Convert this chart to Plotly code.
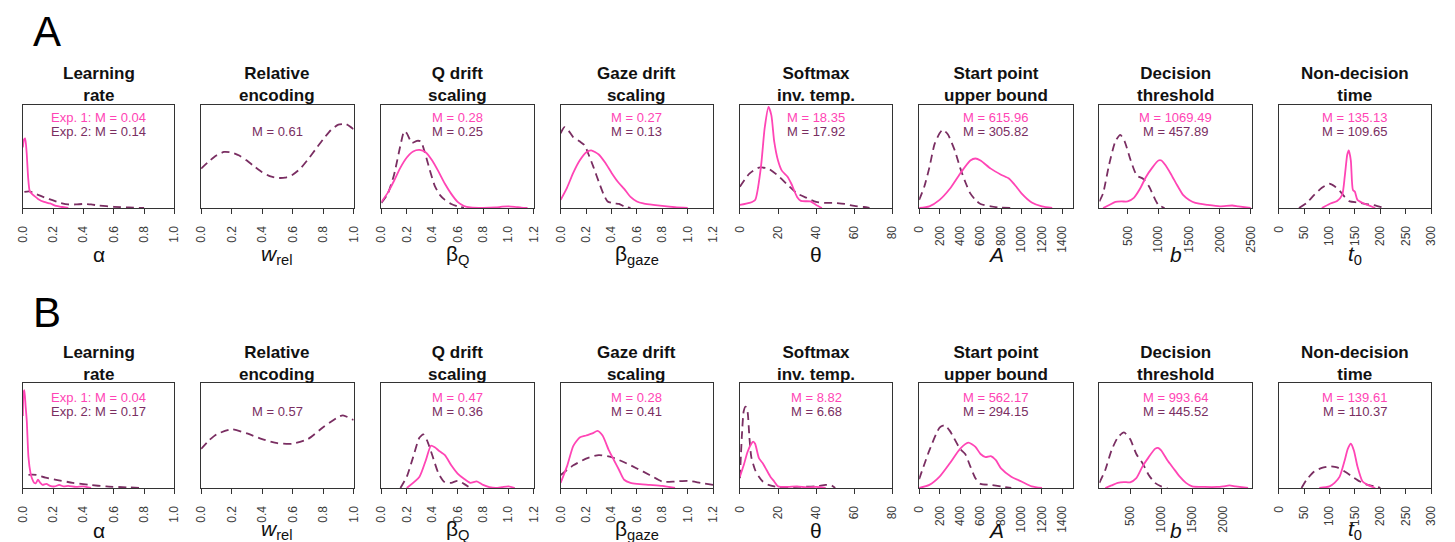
import plotly.graph_objects as go

W, H = 1455, 542
PINK = "#FF45B5"
PLUM = "#7A2E62"
FONT = "Liberation Sans, Arial, sans-serif"

# ---------------- data (x, relative density) ----------------
titles = ["Learning<br>rate", "Relative<br>encoding", "Q drift<br>scaling", "Gaze drift<br>scaling",
          "Softmax<br>inv. temp.", "Start point<br>upper bound", "Decision<br>threshold", "Non-decision<br>time"]
xlabels = ["α", "<i>w</i><sub>rel</sub>", "β<sub>Q</sub>", "β<sub>gaze</sub>", "θ", "<i>A</i>", "<i>b</i>", "<i>t</i><sub>0</sub>"]

ticks_01 = [0.0, 0.2, 0.4, 0.6, 0.8, 1.0]
ticks_012 = [0.0, 0.2, 0.4, 0.6, 0.8, 1.0, 1.2]
ticks_theta = [0, 20, 40, 60, 80]
ticks_A = [0, 200, 400, 600, 800, 1000, 1200, 1400]
ticks_b_A = [500, 1000, 1500, 2000, 2500]
ticks_b_B = [500, 1000, 1500, 2000]
ticks_t0 = [0, 50, 100, 150, 200, 250, 300]

means_A_exp1 = ["Exp. 1: M = 0.04", None, "M = 0.28", "M = 0.27", "M = 18.35", "M = 615.96", "M = 1069.49", "M = 135.13"]
means_A_exp2 = ["Exp. 2: M = 0.14", "M = 0.61", "M = 0.25", "M = 0.13", "M = 17.92", "M = 305.82", "M = 457.89", "M = 109.65"]
means_B_exp1 = ["Exp. 1: M = 0.04", None, "M = 0.47", "M = 0.28", "M = 8.82", "M = 562.17", "M = 993.64", "M = 139.61"]
means_B_exp2 = ["Exp. 2: M = 0.17", "M = 0.57", "M = 0.36", "M = 0.41", "M = 6.68", "M = 294.15", "M = 445.52", "M = 110.37"]

# Row A curves
A_lr_e1 = [[0, 0.6], [0.008, 0.68], [0.015, 0.69], [0.025, 0.55], [0.035, 0.3], [0.045, 0.17], [0.06, 0.14],
           [0.075, 0.12], [0.1, 0.09], [0.14, 0.06], [0.18, 0.045], [0.22, 0.02], [0.26, 0.01], [0.3, 0.0]]
A_lr_e2 = [[0.01, 0.16], [0.04, 0.165], [0.07, 0.15], [0.1, 0.13], [0.15, 0.1], [0.2, 0.075], [0.25, 0.05],
           [0.3, 0.035], [0.35, 0.035], [0.4, 0.04], [0.45, 0.035], [0.5, 0.025], [0.6, 0.012], [0.7, 0.005], [0.8, 0.0]]
A_rel_e2 = [[0, 0.39], [0.05, 0.46], [0.1, 0.52], [0.15, 0.555], [0.2, 0.55], [0.25, 0.52], [0.3, 0.47], [0.35, 0.41],
            [0.4, 0.355], [0.45, 0.315], [0.5, 0.298], [0.55, 0.3], [0.6, 0.33], [0.65, 0.39], [0.7, 0.48], [0.75, 0.58],
            [0.8, 0.68], [0.85, 0.77], [0.9, 0.825], [0.95, 0.83], [1.0, 0.78]]
A_q_e1 = [[0, 0.06], [0.05, 0.15], [0.1, 0.27], [0.15, 0.4], [0.2, 0.5], [0.25, 0.56], [0.3, 0.575], [0.35, 0.55],
          [0.4, 0.47], [0.45, 0.36], [0.5, 0.24], [0.55, 0.14], [0.6, 0.06], [0.65, 0.02], [0.7, 0.005], [0.8, 0.0],
          [0.9, 0.005], [0.95, 0.013], [1.0, 0.017], [1.05, 0.012], [1.1, 0.003], [1.15, 0.0]]
A_q_e2 = [[0, 0.05], [0.05, 0.14], [0.1, 0.33], [0.15, 0.62], [0.18, 0.76], [0.2, 0.74], [0.24, 0.645], [0.28, 0.665],
          [0.31, 0.66], [0.34, 0.56], [0.38, 0.38], [0.42, 0.22], [0.46, 0.13], [0.5, 0.08], [0.55, 0.04], [0.6, 0.015],
          [0.65, 0.003]]
A_g_e1 = [[0, 0.08], [0.05, 0.2], [0.1, 0.35], [0.15, 0.47], [0.2, 0.55], [0.24, 0.57], [0.3, 0.53], [0.35, 0.45],
          [0.4, 0.35], [0.45, 0.26], [0.5, 0.19], [0.55, 0.11], [0.6, 0.065], [0.65, 0.045], [0.7, 0.035], [0.8, 0.02],
          [0.9, 0.008], [1.0, 0.0]]
A_g_e2 = [[0, 0.74], [0.03, 0.8], [0.06, 0.77], [0.1, 0.7], [0.15, 0.66], [0.19, 0.62], [0.22, 0.53], [0.26, 0.4],
          [0.3, 0.26], [0.34, 0.13], [0.37, 0.065], [0.42, 0.045], [0.46, 0.04], [0.5, 0.015], [0.55, 0.0]]
A_s_e1 = [[0, 0.03], [5, 0.05], [8, 0.08], [11, 0.4], [13, 0.79], [15, 1.0], [16.5, 0.92], [18, 0.66], [20, 0.47],
          [22, 0.37], [25, 0.31], [27, 0.24], [30, 0.11], [32, 0.07], [37, 0.065], [40, 0.03], [43, 0.0]]
A_s_e2 = [[0, 0.21], [5, 0.34], [10, 0.4], [15, 0.39], [20, 0.32], [25, 0.23], [30, 0.145], [35, 0.1], [40, 0.06],
          [45, 0.05], [50, 0.05], [55, 0.04], [60, 0.02], [65, 0.01], [68, 0.0]]
A_a_e1 = [[0, 0.0], [100, 0.016], [200, 0.08], [300, 0.19], [400, 0.34], [500, 0.47], [550, 0.49], [600, 0.47],
          [700, 0.39], [800, 0.33], [880, 0.29], [950, 0.21], [1000, 0.145], [1100, 0.055], [1200, 0.016], [1300, 0.0]]
A_a_e2 = [[0, 0.08], [50, 0.21], [100, 0.4], [150, 0.63], [200, 0.74], [230, 0.775], [280, 0.73], [350, 0.565],
          [400, 0.4], [450, 0.26], [500, 0.145], [550, 0.08], [600, 0.04], [700, 0.016], [800, 0.003], [900, 0.0]]
A_b_e1 = [[100, 0.0], [200, 0.03], [300, 0.06], [400, 0.065], [500, 0.065], [600, 0.1], [700, 0.19], [800, 0.31],
          [900, 0.4], [1000, 0.47], [1050, 0.47], [1100, 0.435], [1200, 0.34], [1300, 0.23], [1400, 0.13],
          [1500, 0.08], [1600, 0.05], [1800, 0.03], [2000, 0.016], [2200, 0.025], [2300, 0.016], [2500, 0.0]]
A_b_e2 = [[40, 0.065], [100, 0.145], [200, 0.435], [300, 0.66], [380, 0.725], [450, 0.66], [550, 0.47], [650, 0.32],
          [750, 0.29], [850, 0.21], [950, 0.08], [1000, 0.03], [1100, 0.0]]
A_t_e1 = [[85, 0.0], [100, 0.04], [115, 0.07], [125, 0.13], [130, 0.31], [135, 0.53], [138, 0.57], [142, 0.47],
          [146, 0.18], [150, 0.16], [155, 0.08], [165, 0.05], [175, 0.03], [185, 0.01], [190, 0.0]]
A_t_e2 = [[40, 0.0], [55, 0.05], [70, 0.13], [85, 0.2], [100, 0.24], [110, 0.215], [120, 0.17], [130, 0.11],
          [140, 0.065], [155, 0.055], [170, 0.04], [185, 0.03], [200, 0.01], [210, 0.0]]

# Row B curves
B_lr_e1 = [[0, 0.7], [0.005, 0.93], [0.01, 0.95], [0.018, 0.8], [0.026, 0.65], [0.037, 0.3], [0.05, 0.15],
           [0.06, 0.095], [0.075, 0.05], [0.085, 0.045], [0.1, 0.08], [0.115, 0.05], [0.13, 0.03], [0.155, 0.04],
           [0.18, 0.02], [0.21, 0.015], [0.24, 0.03], [0.27, 0.015], [0.3, 0.02], [0.35, 0.01], [0.4, 0.015],
           [0.45, 0.0]]
B_lr_e2 = [[0.037, 0.127], [0.06, 0.13], [0.09, 0.127], [0.15, 0.1], [0.22, 0.08], [0.33, 0.05], [0.44, 0.03],
           [0.55, 0.015], [0.7, 0.006], [0.78, 0.0]]
B_rel_e2 = [[0, 0.38], [0.05, 0.46], [0.1, 0.52], [0.2, 0.57], [0.3, 0.53], [0.4, 0.475], [0.5, 0.435], [0.6, 0.43],
            [0.7, 0.475], [0.8, 0.59], [0.9, 0.69], [0.93, 0.705], [1.0, 0.66]]
B_q_e1 = [[0.2, 0.0], [0.3, 0.11], [0.35, 0.27], [0.39, 0.41], [0.42, 0.395], [0.45, 0.365], [0.5, 0.32], [0.55, 0.22],
          [0.6, 0.14], [0.65, 0.09], [0.7, 0.05], [0.75, 0.065], [0.8, 0.03], [0.85, 0.008], [0.9, 0.0],
          [0.95, 0.008], [1.0, 0.016], [1.05, 0.0]]
B_q_e2 = [[0.15, 0.0], [0.2, 0.11], [0.25, 0.3], [0.3, 0.49], [0.33, 0.52], [0.36, 0.46], [0.4, 0.32], [0.45, 0.14],
          [0.5, 0.054], [0.55, 0.05], [0.6, 0.07], [0.65, 0.04], [0.7, 0.0]]
B_g_e1 = [[0, 0.05], [0.05, 0.21], [0.1, 0.41], [0.15, 0.49], [0.2, 0.51], [0.25, 0.53], [0.29, 0.555], [0.33, 0.51],
          [0.38, 0.365], [0.42, 0.27], [0.46, 0.175], [0.5, 0.08], [0.55, 0.05], [0.6, 0.04], [0.7, 0.03], [0.8, 0.02],
          [0.9, 0.0]]
B_g_e2 = [[0, 0.127], [0.05, 0.175], [0.1, 0.22], [0.2, 0.285], [0.3, 0.32], [0.4, 0.3], [0.5, 0.25], [0.6, 0.19],
          [0.7, 0.127], [0.8, 0.063], [0.9, 0.063], [1.0, 0.07], [1.1, 0.05], [1.2, 0.03]]
B_s_e1 = [[0, 0.11], [2, 0.22], [4, 0.35], [6, 0.43], [7, 0.45], [8, 0.43], [10, 0.29], [12, 0.24], [14, 0.175],
          [16, 0.11], [18, 0.063], [20, 0.016], [25, 0.01], [30, 0.016], [35, 0.006], [40, 0.01], [45, 0.0]]
B_s_e2 = [[0, 0.095], [1, 0.49], [2, 0.745], [3, 0.79], [4, 0.745], [5, 0.49], [6, 0.3], [8, 0.175], [10, 0.11],
          [12, 0.063], [15, 0.03], [20, 0.01], [30, 0.01], [40, 0.016], [45, 0.03], [48, 0.025], [50, 0.0]]
B_a_e1 = [[0, 0.0], [100, 0.03], [200, 0.11], [300, 0.24], [400, 0.38], [480, 0.44], [550, 0.4], [600, 0.33],
          [650, 0.3], [700, 0.31], [750, 0.27], [800, 0.19], [900, 0.11], [1000, 0.063], [1100, 0.016], [1200, 0.0]]
B_a_e2 = [[0, 0.086], [100, 0.365], [200, 0.587], [250, 0.61], [300, 0.555], [400, 0.38], [450, 0.33], [500, 0.21],
          [550, 0.095], [600, 0.04], [700, 0.03], [800, 0.016], [900, 0.0]]
B_b_e1 = [[100, 0.0], [200, 0.025], [300, 0.05], [400, 0.058], [500, 0.055], [600, 0.095], [700, 0.21], [800, 0.3],
          [900, 0.38], [950, 0.39], [1000, 0.365], [1100, 0.27], [1200, 0.19], [1300, 0.11], [1400, 0.05],
          [1500, 0.016], [1700, 0.01], [1900, 0.01], [2000, 0.016], [2100, 0.025], [2200, 0.016], [2400, 0.0]]
B_b_e2 = [[5, 0.05], [100, 0.175], [200, 0.365], [300, 0.49], [400, 0.54], [500, 0.475], [600, 0.33], [700, 0.24],
          [800, 0.127], [900, 0.05], [1000, 0.016], [1100, 0.0]]
B_t_e1 = [[80, 0.0], [100, 0.016], [110, 0.05], [120, 0.11], [130, 0.27], [136, 0.38], [142, 0.43], [148, 0.365],
          [155, 0.21], [165, 0.063], [175, 0.03], [185, 0.01], [190, 0.0]]
B_t_e2 = [[45, 0.0], [55, 0.08], [70, 0.16], [85, 0.195], [100, 0.21], [115, 0.2], [130, 0.16], [145, 0.11],
          [160, 0.063], [175, 0.03], [190, 0.016], [200, 0.0]]

rowA_curves = [(A_lr_e1, A_lr_e2), (None, A_rel_e2), (A_q_e1, A_q_e2), (A_g_e1, A_g_e2),
               (A_s_e1, A_s_e2), (A_a_e1, A_a_e2), (A_b_e1, A_b_e2), (A_t_e1, A_t_e2)]
rowB_curves = [(B_lr_e1, B_lr_e2), (None, B_rel_e2), (B_q_e1, B_q_e2), (B_g_e1, B_g_e2),
               (B_s_e1, B_s_e2), (B_a_e1, B_a_e2), (B_b_e1, B_b_e2), (B_t_e1, B_t_e2)]

ranges_A = [[0, 1], [0, 1], [0, 1.2], [0, 1.2], [0, 80], [0, 1500], [40, 2520], [0, 300]]
ranges_B = [[0, 1], [0, 1], [0, 1.2], [0, 1.2], [0, 80], [0, 1500], [5, 2462], [0, 300]]
tickvals_A = [ticks_01, ticks_01, ticks_012, ticks_012, ticks_theta, ticks_A, ticks_b_A, ticks_t0]
tickvals_B = [ticks_01, ticks_01, ticks_012, ticks_012, ticks_theta, ticks_A, ticks_b_B, ticks_t0]

# ---------------- layout geometry (pixels) ----------------
XL = [16, 196, 378, 559, 740, 921, 1103, 1284]
XR = [169, 350, 532, 713, 894, 1076, 1257, 1438]
ROWS = [(105, 208), (383, 488)]
XLAB_OFF = [47, 42]
MEAN_OFF = [(12.5, 26.5), (14, 28)]


def px(x):
    return x / W


def py(y):
    return 1 - y / H


def fmt(v, vals):
    if any(isinstance(t, float) for t in vals):
        return f"{v:.1f}"
    return str(int(v))


fig = go.Figure()
layout = {}
annotations = []

rows = [(rowA_curves, ranges_A, tickvals_A, means_A_exp1, means_A_exp2),
        (rowB_curves, ranges_B, tickvals_B, means_B_exp1, means_B_exp2)]

idx = 0
for r, (curves, ranges, tvals, m1, m2) in enumerate(rows):
    ytop, ybot = ROWS[r]
    for c in range(8):
        idx += 1
        xa = "x" if idx == 1 else f"x{idx}"
        ya = "y" if idx == 1 else f"y{idx}"
        xkey = "xaxis" if idx == 1 else f"xaxis{idx}"
        ykey = "yaxis" if idx == 1 else f"yaxis{idx}"
        e1, e2 = curves[c]
        if e2 is not None:
            fig.add_trace(go.Scatter(x=[p[0] for p in e2], y=[p[1] for p in e2], xaxis=xa, yaxis=ya,
                                     mode="lines", line=dict(color=PLUM, width=1.8, dash="8px,5px",
                                                             shape="spline", smoothing=0.6),
                                     showlegend=False, hoverinfo="skip"))
        if e1 is not None:
            fig.add_trace(go.Scatter(x=[p[0] for p in e1], y=[p[1] for p in e1], xaxis=xa, yaxis=ya,
                                     mode="lines", line=dict(color=PINK, width=1.8, shape="spline", smoothing=0.6),
                                     showlegend=False, hoverinfo="skip"))
        tv = tvals[c]
        layout[xkey] = dict(domain=[px(XL[c]), px(XR[c])], range=ranges[c], anchor=ya,
                            tickvals=tv, ticktext=[fmt(v, tv) for v in tv], tickangle=-90,
                            ticks="outside", ticklen=5, tickwidth=1.3, tickcolor="#333",
                            showline=True, linecolor="#333", linewidth=1.4, mirror=True,
                            showgrid=False, zeroline=False, ticklabelstandoff=7,
                            tickfont=dict(family=FONT, size=12, color="#3a3a3a"), fixedrange=True)
        layout[ykey] = dict(domain=[py(ybot), py(ytop)], range=[0, 1.02], anchor=xa,
                            showticklabels=False, ticks="", showline=True, linecolor="#333",
                            linewidth=1.4, mirror=True, showgrid=False, zeroline=False, fixedrange=True)
        cx = px((XL[c] + XR[c]) / 2)
        # title
        annotations.append(dict(text=f"<b>{titles[c]}</b>", x=cx, y=py(ytop - 20), xref="paper", yref="paper",
                                xanchor="center", yanchor="middle", showarrow=False,
                                font=dict(family=FONT, size=17, color="#111")))
        # means
        o1, o2 = MEAN_OFF[r]
        if m1[c]:
            annotations.append(dict(text=m1[c], x=cx, y=py(ytop + o1), xref="paper",
                                    yref="paper", xanchor="center", yanchor="middle", showarrow=False,
                                    font=dict(family=FONT, size=13, color=PINK)))
        annotations.append(dict(text=m2[c], x=cx, y=py(ytop + o2), xref="paper",
                                yref="paper", xanchor="center", yanchor="middle", showarrow=False,
                                font=dict(family=FONT, size=13, color=PLUM)))
        # x label
        annotations.append(dict(text=xlabels[c], x=cx, y=py(ybot + XLAB_OFF[r]), xref="paper", yref="paper",
                                xanchor="center", yanchor="middle", showarrow=False,
                                font=dict(family=FONT, size=21, color="#111")))

annotations.append(dict(text="A", x=px(24), y=py(32), xref="paper", yref="paper", xanchor="left",
                        yanchor="middle", showarrow=False, font=dict(family=FONT, size=42, color="#000")))
annotations.append(dict(text="B", x=px(24), y=py(312), xref="paper", yref="paper", xanchor="left",
                        yanchor="middle", showarrow=False, font=dict(family=FONT, size=42, color="#000")))

fig.update_layout(width=W, height=H, margin=dict(l=0, r=0, t=0, b=0), paper_bgcolor="white",
                  plot_bgcolor="white", showlegend=False, annotations=annotations, **layout)
fig.write_html("out.html", config={"displayModeBar": False})
